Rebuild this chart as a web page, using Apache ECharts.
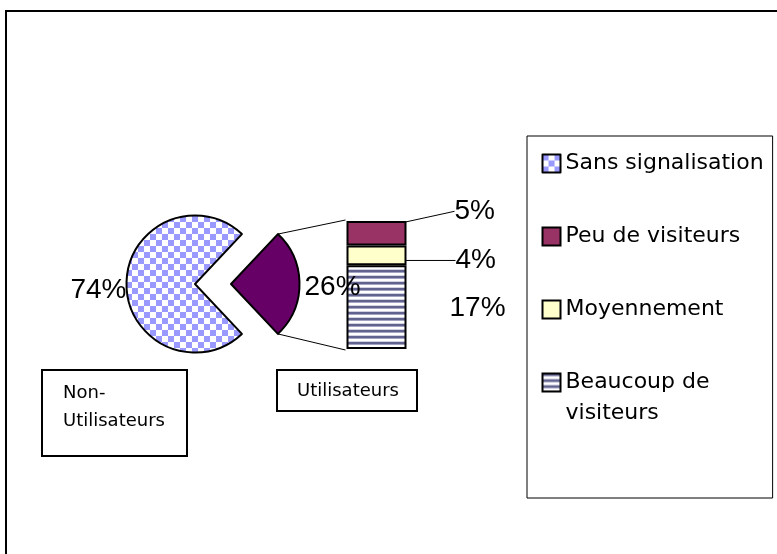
<!DOCTYPE html>
<html>
<head>
<meta charset="utf-8">
<script src="https://cdn.jsdelivr.net/npm/echarts@6/dist/echarts.min.js"></script>
<style>
  html, body { margin: 0; padding: 0; background: #fff; }
  #chart { width: 777px; height: 554px; }
</style>
</head>
<body>
<div id="chart"></div>
<script>
// main pie: the "Utilisateurs" share is pulled out and split in the bar
const pieNames = ['Utilisateurs', 'Sans signalisation'];
const pieValues = [26, 74];

// stacked bar, bottom to top
const barNames = ['Beaucoup de visiteurs', 'Moyennement', 'Peu de visiteurs'];
const barValues = [17, 4, 5];

const legendNames = ['Sans signalisation', 'Peu de visiteurs', 'Moyennement', 'Beaucoup de visiteurs'];
const boxLabels = ['Non-\nUtilisateurs', 'Utilisateurs'];

function makePattern(w, h, draw) {
  const c = document.createElement('canvas');
  c.width = w;
  c.height = h;
  const ctx = c.getContext('2d');
  draw(ctx);
  return { image: c, repeat: 'repeat' };
}

const checker = makePattern(12, 12, (ctx) => {
  ctx.fillStyle = '#ffffff';
  ctx.fillRect(0, 0, 12, 12);
  ctx.fillStyle = '#9999ff';
  ctx.fillRect(0, 0, 6, 6);
  ctx.fillRect(6, 6, 6, 6);
});

const stripes = makePattern(6, 6, (ctx) => {
  ctx.fillStyle = '#ffffff';
  ctx.fillRect(0, 0, 6, 6);
  ctx.fillStyle = '#62628f';
  ctx.fillRect(0, 0, 6, 2);
  ctx.fillStyle = '#a3a3c4';
  ctx.fillRect(0, 2, 6, 1);
  ctx.fillStyle = '#d2d2e2';
  ctx.fillRect(0, 5, 6, 1);
});

const pieColors = ['#660066', checker];
const barColors = {
  'Beaucoup de visiteurs': stripes,
  'Moyennement': '#ffffcc',
  'Peu de visiteurs': '#993366',
};

// label tweaks for the bar (distance from bar, vertical shift)
const barLabelDistance = { 'Beaucoup de visiteurs': 43, 'Moyennement': 49, 'Peu de visiteurs': 48 };
const barLabelShift = { 'Beaucoup de visiteurs': 1, 'Moyennement': 5, 'Peu de visiteurs': -22 };

const FONT_ARIAL = '"Liberation Sans", Arial, sans-serif';
const FONT_GOTHIC = '"DejaVu Sans", sans-serif';

const pieCenter = [195, 284];
const pieRadius = 68.5;
const pieOffset = 36;
const pieTotal = pieValues.reduce((a, b) => a + b, 0);
const halfAngle = (pieValues[0] / pieTotal) * 180;

const barGrid = { left: 346.5, top: 221, width: 60, height: 128 };
const barTotal = barValues.reduce((a, b) => a + b, 0);

const chart = echarts.init(document.getElementById('chart'));

const option = {
  animation: false,
  title: [
    {
      text: boxLabels[0],
      left: 42,
      top: 370,
      borderColor: '#000',
      borderWidth: 2,
      padding: [9, 22, 21, 21],
      textStyle: { fontFamily: FONT_GOTHIC, fontSize: 18, fontWeight: 'normal', color: '#000', lineHeight: 28 },
    },
    {
      text: boxLabels[1],
      left: 277,
      top: 370,
      borderColor: '#000',
      borderWidth: 2,
      padding: [10, 18, 9, 20],
      textStyle: { fontFamily: FONT_GOTHIC, fontSize: 18, fontWeight: 'normal', color: '#000', lineHeight: 22 },
    },
  ],
  legend: {
    data: legendNames,
    orient: 'vertical',
    left: 527,
    top: 136,
    icon: 'rect',
    itemWidth: 18,
    itemHeight: 18,
    itemGap: 51,
    padding: [16.5, 9, 73.5, 14.5],
    borderColor: '#000',
    borderWidth: 1,
    selectedMode: false,
    itemStyle: { borderColor: '#000', borderWidth: 2 },
    formatter: (name) => {
      if (name === 'Beaucoup de visiteurs') {
        return '{a|Beaucoup de}\n{b|visiteurs}';
      }
      return '{a|' + name + '}';
    },
    textStyle: {
      color: '#000',
      rich: {
        a: { fontFamily: FONT_GOTHIC, fontSize: 22, lineHeight: 31, color: '#000' },
        b: { fontFamily: FONT_GOTHIC, fontSize: 22, lineHeight: 0, padding: [31, 0, 0, 0], color: '#000' },
      },
    },
  },
  grid: {
    left: barGrid.left,
    top: barGrid.top,
    width: barGrid.width,
    height: barGrid.height,
  },
  xAxis: { type: 'category', data: [''], show: false },
  yAxis: { type: 'value', min: 0, max: barTotal, show: false },
  series: [
    {
      type: 'pie',
      center: pieCenter,
      radius: pieRadius,
      startAngle: halfAngle,
      clockwise: true,
      avoidLabelOverlap: false,
      selectedMode: 'single',
      selectedOffset: pieOffset,
      emphasis: { disabled: true },
      itemStyle: { borderColor: '#000', borderWidth: 2 },
      label: {
        position: 'outside',
        formatter: '{c}%',
        fontFamily: FONT_ARIAL,
        fontSize: 28,
        color: '#000',
        distanceToLabelLine: 0,
      },
      labelLayout: { dy: 3 },
      labelLine: { show: false, length: 0, length2: 0 },
      data: pieNames.map((n, i) => ({
        name: n,
        value: pieValues[i],
        selected: i === 0,
        itemStyle: { color: pieColors[i] },
        label: { distanceToLabelLine: i === 0 ? 5 : 0 },
      })),
    },
    ...barNames.map((n, i) => ({
      type: 'bar',
      name: n,
      stack: 'users',
      barWidth: '100%',
      data: [barValues[i]],
      itemStyle: { color: barColors[n], borderColor: '#000', borderWidth: 2 },
      emphasis: { disabled: true },
      label: {
        show: true,
        position: 'right',
        distance: barLabelDistance[n],
        formatter: '{c}%',
        fontFamily: FONT_ARIAL,
        fontSize: 28,
        color: '#000',
      },
      labelLayout: { dy: barLabelShift[n] },
      labelLine: { show: n !== 'Beaucoup de visiteurs', lineStyle: { color: '#000', width: 1 } },
    })),
  ],
};

chart.setOption(option);

// frame and connector lines from the pulled-out slice to the bar
const rad = (halfAngle * Math.PI) / 180;
const sliceX = pieCenter[0] + pieOffset + pieRadius * Math.cos(rad);
const sliceTop = pieCenter[1] - pieRadius * Math.sin(rad);
const sliceBottom = pieCenter[1] + pieRadius * Math.sin(rad);
const barLeft = barGrid.left - 1;

chart.setOption({
  graphic: [
    {
      type: 'rect',
      shape: { x: 6, y: 11, width: 800, height: 600 },
      style: { fill: 'none', stroke: '#000', lineWidth: 2 },
      silent: true,
    },
    {
      type: 'line',
      shape: { x1: sliceX, y1: sliceTop, x2: barLeft, y2: barGrid.top - 1 },
      style: { stroke: '#000', lineWidth: 1 },
      silent: true,
    },
    {
      type: 'line',
      shape: { x1: sliceX, y1: sliceBottom, x2: barLeft, y2: barGrid.top + barGrid.height + 1 },
      style: { stroke: '#000', lineWidth: 1 },
      silent: true,
    },
  ],
});
</script>
</body>
</html>
